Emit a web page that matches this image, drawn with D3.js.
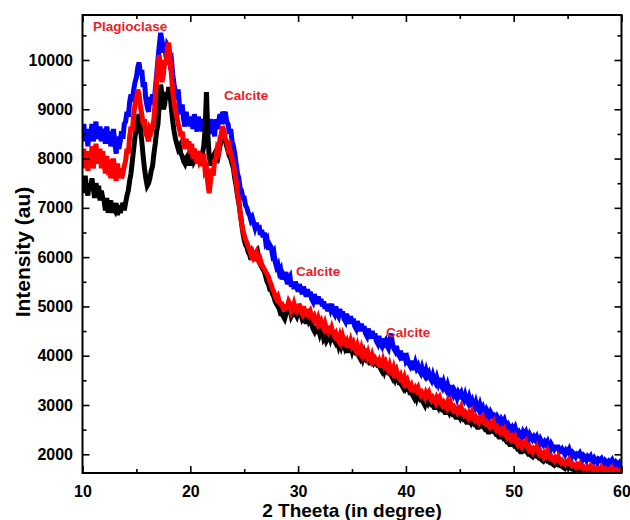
<!DOCTYPE html>
<html>
<head>
<meta charset="utf-8">
<script src="https://cdn.jsdelivr.net/npm/d3@7"></script>
<style>
body {margin:0; background:#fff;}
text {font-family:"Liberation Sans", Arial, sans-serif; font-weight:bold;}
</style>
</head>
<body>
<svg id="chart" width="630" height="520"></svg>
<script>
// Scan settings (2 theta, degrees)
var thetaStart = 10, thetaEnd = 60, thetaStep = 0.125;

// Intensity readings, 8 per degree from 10 to 60 (one row per degree)
var blueScan = [
8450,8700,8350,8550,8250,8600,8450,8700,
8350,8550,8750,8400,8500,8650,8350,8600,
8500,8300,8650,8450,8550,8250,8400,8600,
8300,8100,8450,8200,8350,8550,8400,8700,
8750,8950,8850,9150,9300,9150,9400,9550,
9650,9850,9950,9700,9800,9450,9550,9200,
9050,8950,9250,9150,9300,9100,9400,9700,
10000,10300,10550,10400,10150,10350,10050,10300,
10250,9950,10000,9700,9500,9350,9200,9400,
9050,8900,9100,8800,8650,8950,8700,8850,
8650,8850,8600,8900,8700,8550,8850,8650,
8800,8550,8750,8650,8900,8600,8500,8800,
8550,8700,8450,8800,8600,8750,8900,8700,
8950,8850,8950,8750,8700,8500,8600,8350,
8250,8100,7900,7700,7600,7400,7350,7200,
7200,7050,7000,6900,6850,6750,6800,6700,
6600,6700,6550,6650,6450,6550,6400,6500,
6300,6350,6150,6250,6200,6050,6100,5900,
5800,5850,5700,5750,5550,5650,5600,5700,
5450,5550,5600,5400,5500,5350,5500,5400,
5300,5450,5350,5250,5400,5300,5200,5350,
5200,5300,5150,5100,5250,5150,5050,5200,
5050,5150,5000,5100,4950,5050,4900,5050,
4950,5050,4900,4850,5000,4850,4800,4950,
4800,4900,4750,4700,4850,4750,4650,4800,
4650,4750,4600,4550,4700,4600,4500,4650,
4500,4600,4450,4400,4550,4450,4350,4500,
4350,4450,4300,4250,4400,4250,4200,4350,
4250,4300,4200,4150,4300,4450,4250,4150,
4100,4200,4050,4000,4100,3950,3950,4050,
3900,3950,3850,3800,3900,3750,3750,3850,
3750,3800,3700,3650,3750,3650,3600,3700,
3600,3650,3550,3500,3600,3500,3450,3550,
3450,3550,3400,3350,3450,3350,3300,3400,
3300,3400,3250,3200,3300,3250,3150,3250,
3200,3250,3150,3100,3200,3100,3050,3150,
3050,3100,3000,2950,3050,2950,2900,3000,
2900,2950,2850,2800,2900,2850,2750,2850,
2800,2800,2700,2650,2750,2700,2600,2700,
2650,2700,2600,2550,2600,2550,2500,2550,
2500,2550,2450,2400,2450,2400,2350,2450,
2400,2450,2350,2300,2400,2350,2300,2350,
2300,2350,2250,2200,2300,2250,2200,2250,
2200,2250,2150,2100,2200,2150,2100,2150,
2150,2150,2050,2050,2100,2050,2000,2080,
2050,2100,2000,1950,2030,2000,1950,2000,
1980,2020,1950,1900,1970,1940,1880,1950,
1920,1960,1880,1850,1920,1880,1830,1900,
1880,1910,1840,1800,1870,1840,1790,1860,
1840,1880,1810,1780,1840,1810,1770,1830,
1800];

var blackScan = [
7550,7300,7650,7400,7250,7500,7350,7600,
7400,7200,7500,7300,7450,7150,7350,7200,
7150,6950,7200,6900,7050,7150,6900,7000,
6950,7100,6850,7050,6900,7000,7100,6950,
7100,7250,7350,7550,7700,7950,8200,8450,
8600,8800,8900,8600,8350,8050,7800,7600,
7450,7500,7600,7750,7850,8100,8300,8550,
8700,9100,9500,9300,9000,9100,9350,9200,
9450,9300,9000,8750,8550,8400,8300,8200,
8250,8100,8050,7950,7900,8000,8050,7900,
7900,8100,8200,7950,8000,8150,7950,8100,
7950,8100,8250,8600,9350,8500,8050,7900,
7900,8050,8100,7950,7950,8100,8250,8400,
8600,8450,8350,8250,8150,8050,8000,7900,
7800,7600,7450,7250,7100,6900,6700,6500,
6350,6250,6200,6100,6050,5950,6100,6050,
6000,6050,6100,5950,5850,5800,5750,5700,
5600,5500,5450,5350,5350,5250,5200,5100,
5050,5000,4950,4850,4850,4800,4750,4850,
4900,5000,4950,4800,4850,4950,4850,4800,
4900,4950,4850,4750,4800,4750,4650,4800,
4700,4750,4650,4550,4500,4600,4450,4550,
4450,4550,4500,4350,4400,4300,4350,4450,
4350,4450,4400,4300,4250,4300,4200,4300,
4200,4300,4250,4150,4200,4100,4100,4200,
4100,4200,4100,4050,4050,4000,3950,4050,
3950,4050,3950,3900,3900,3850,3850,3900,
3850,3900,3850,3800,3800,3750,3700,3800,
3700,3800,3700,3650,3650,3600,3550,3650,
3550,3650,3550,3450,3450,3400,3350,3450,
3350,3400,3350,3250,3250,3200,3150,3250,
3150,3250,3150,3100,3100,3050,3000,3100,
3050,3150,3050,3000,3000,2950,2950,3000,
2950,3050,2950,2900,2900,2850,2850,2900,
2850,2950,2850,2800,2800,2750,2750,2800,
2750,2850,2750,2700,2700,2650,2650,2700,
2650,2750,2650,2600,2600,2550,2550,2600,
2580,2650,2550,2500,2500,2450,2450,2500,
2480,2550,2450,2400,2400,2350,2350,2400,
2350,2400,2300,2250,2250,2200,2200,2250,
2200,2250,2150,2100,2100,2050,2050,2100,
2080,2150,2050,2000,2000,1970,1950,2000,
1980,2030,1950,1920,1920,1880,1860,1900,
1880,1930,1860,1830,1830,1800,1780,1820,
1800,1850,1780,1760,1760,1730,1710,1750,
1740,1780,1720,1700,1700,1680,1660,1690,
1680,1720,1670,1650,1650,1630,1620,1650,
1640,1690,1640,1620,1620,1600,1590,1620,
1620,1660,1610,1600,1600,1580,1570,1600,
1600,1640,1590,1590,1580,1570,1560,1590,
1590];

var redScan = [
7950,8200,7800,8150,7750,8050,7850,8250,
7800,8100,8300,7900,8050,8200,7800,8150,
7900,7700,8050,7800,7850,7600,7750,8000,
7700,7550,7900,7650,7800,7600,7700,7850,
7950,8200,8100,8450,8650,8550,8900,9100,
9200,9400,9300,9050,8900,8700,8800,8500,
8450,8350,8600,8550,8650,8800,9200,9600,
9900,10100,9800,9550,9700,10000,9900,10250,
10350,10000,9700,9350,9150,8950,8850,8700,
8600,8450,8550,8300,8200,8400,8250,8350,
8100,8300,8000,8200,8050,7900,8150,7950,
8000,7850,8100,7750,7800,7500,7300,7550,
7800,7650,7950,8000,8200,8150,8400,8500,
8650,8550,8400,8350,8200,8250,8100,8000,
7900,7700,7550,7300,7150,6900,6700,6550,
6450,6350,6300,6200,6150,6050,6100,6000,
6050,6100,5950,5900,5950,5850,5800,5750,
5700,5650,5600,5500,5450,5350,5300,5200,
5150,5200,5100,5050,5050,4950,4950,5000,
5000,5100,5050,4900,4950,5050,4950,4900,
4950,5050,4900,4850,5000,4900,4800,4950,
4850,4900,4800,4750,4800,4700,4650,4750,
4650,4700,4600,4550,4650,4550,4500,4600,
4450,4550,4450,4400,4450,4350,4300,4400,
4300,4400,4300,4250,4300,4200,4200,4300,
4200,4250,4150,4100,4200,4100,4050,4150,
4050,4150,4000,3950,4050,3950,3900,4000,
3900,3950,3900,3850,3900,3800,3800,3900,
3800,3850,3750,3700,3800,3700,3650,3750,
3650,3700,3600,3550,3600,3500,3450,3550,
3450,3500,3400,3350,3400,3300,3300,3350,
3300,3350,3250,3200,3250,3200,3150,3250,
3200,3250,3150,3100,3150,3100,3050,3150,
3100,3150,3050,3000,3050,3000,2950,3050,
2980,3050,2950,2900,2950,2900,2850,2920,
2880,2950,2850,2800,2850,2800,2750,2830,
2780,2850,2750,2700,2750,2700,2650,2730,
2700,2750,2650,2620,2650,2600,2560,2630,
2600,2650,2550,2500,2550,2500,2450,2500,
2450,2500,2400,2350,2400,2350,2300,2350,
2300,2350,2250,2200,2250,2200,2150,2220,
2200,2250,2150,2100,2150,2100,2050,2120,
2100,2150,2050,2000,2050,2000,1950,2020,
1980,2050,1960,1920,1950,1900,1870,1930,
1900,1950,1870,1830,1870,1830,1800,1850,
1830,1880,1800,1770,1800,1770,1740,1790,
1760,1800,1740,1720,1750,1720,1700,1740,
1720,1760,1710,1690,1720,1690,1670,1710,
1700,1740,1690,1670,1700,1670,1650,1690,
1680,1720,1670,1650,1680,1650,1630,1670,
1660];

// Axis ticks
var xTicks = [10,20,30,40,50,60],
xMinor = [15,25,35,45,55],
yTicks = [2000,3000,4000,5000,6000,7000,8000,9000,10000],
yMinor = [2500,3500,4500,5500,6500,7500,8500,9500,10500];

// Peak labels (name, 2 theta, intensity at text baseline)
var peakNames = ["Plagioclase","Calcite","Calcite","Calcite"],
peakTheta = [10.97,23.13,29.8,38.15],
peakLevel = [10590,9190,5620,4380];

var plotLeft = 82.5, plotRight = 621.5, plotTop = 15, plotBottom = 473;

var svg = d3.select("#chart");

var x = d3.scaleLinear().domain([thetaStart, thetaEnd]).range([plotLeft, plotRight]);
var y = d3.scaleLinear().domain([1620, 10913]).range([plotBottom, plotTop]);

var theta = d3.range(blueScan.length).map(function(i){return thetaStart + i*thetaStep;});

svg.append("clipPath").attr("id","plotClip")
.append("rect")
.attr("x",plotLeft).attr("y",plotTop)
.attr("width",plotRight-plotLeft).attr("height",plotBottom-plotTop);

var line = d3.line()
.x(function(d,i){return x(theta[i]);})
.y(function(d){return y(d);});

// blue underneath, then black, red on top
[[blueScan,"#0000ff"],[blackScan,"#000000"],[redScan,"#ff0000"]].forEach(function(s){
	svg.append("path")
	.datum(s[0])
	.attr("clip-path","url(#plotClip)")
	.attr("fill","none")
	.attr("stroke",s[1])
	.attr("stroke-width",5)
	.attr("stroke-linejoin","miter")
	.attr("d",line);
});

// axes, ticks pointing inward
function styleAxis(g){
	g.select(".domain").remove();
	g.selectAll(".tick line").attr("stroke","#000").attr("stroke-width",1.6);
	g.selectAll("text").attr("fill","#000").style("font-size","16px");
}

svg.append("g").attr("transform","translate(0,"+plotBottom+")")
.call(d3.axisBottom(x).tickValues(xTicks).tickSize(-7).tickPadding(12.6))
.call(styleAxis);
svg.append("g").attr("transform","translate(0,"+plotBottom+")")
.call(d3.axisBottom(x).tickValues(xMinor).tickSize(-4).tickFormat(""))
.call(styleAxis);
svg.append("g").attr("transform","translate(0,"+plotTop+")")
.call(d3.axisTop(x).tickValues(xTicks).tickSize(-7).tickFormat(""))
.call(styleAxis);
svg.append("g").attr("transform","translate(0,"+plotTop+")")
.call(d3.axisTop(x).tickValues(xMinor).tickSize(-4).tickFormat(""))
.call(styleAxis);

svg.append("g").attr("transform","translate("+plotLeft+",0)")
.call(d3.axisLeft(y).tickValues(yTicks).tickSize(-7).tickPadding(9.5).tickFormat(d3.format("d")))
.call(styleAxis);
svg.append("g").attr("transform","translate("+plotLeft+",0)")
.call(d3.axisLeft(y).tickValues(yMinor).tickSize(-4).tickFormat(""))
.call(styleAxis);
svg.append("g").attr("transform","translate("+plotRight+",0)")
.call(d3.axisRight(y).tickValues(yTicks).tickSize(-7).tickFormat(""))
.call(styleAxis);
svg.append("g").attr("transform","translate("+plotRight+",0)")
.call(d3.axisRight(y).tickValues(yMinor).tickSize(-4).tickFormat(""))
.call(styleAxis);

// frame
svg.append("rect")
.attr("x",plotLeft).attr("y",plotTop)
.attr("width",plotRight-plotLeft).attr("height",plotBottom-plotTop)
.attr("fill","none").attr("stroke","#000").attr("stroke-width",2);

// titles
svg.append("text")
.attr("x",(plotLeft+plotRight)/2).attr("y",517)
.attr("text-anchor","middle")
.style("font-size","19px")
.text("2 Theeta (in degree)");

svg.append("text")
.attr("transform","translate(30,252) rotate(-90)")
.attr("text-anchor","middle")
.style("font-size","21px")
.text("Intensity (au)");

// peak labels
peakNames.forEach(function(name,i){
	svg.append("text")
	.attr("x",x(peakTheta[i])).attr("y",y(peakLevel[i]))
	.attr("fill","#ee1c24")
	.style("font-size","13.5px")
	.text(name);
});
</script>
</body>
</html>
